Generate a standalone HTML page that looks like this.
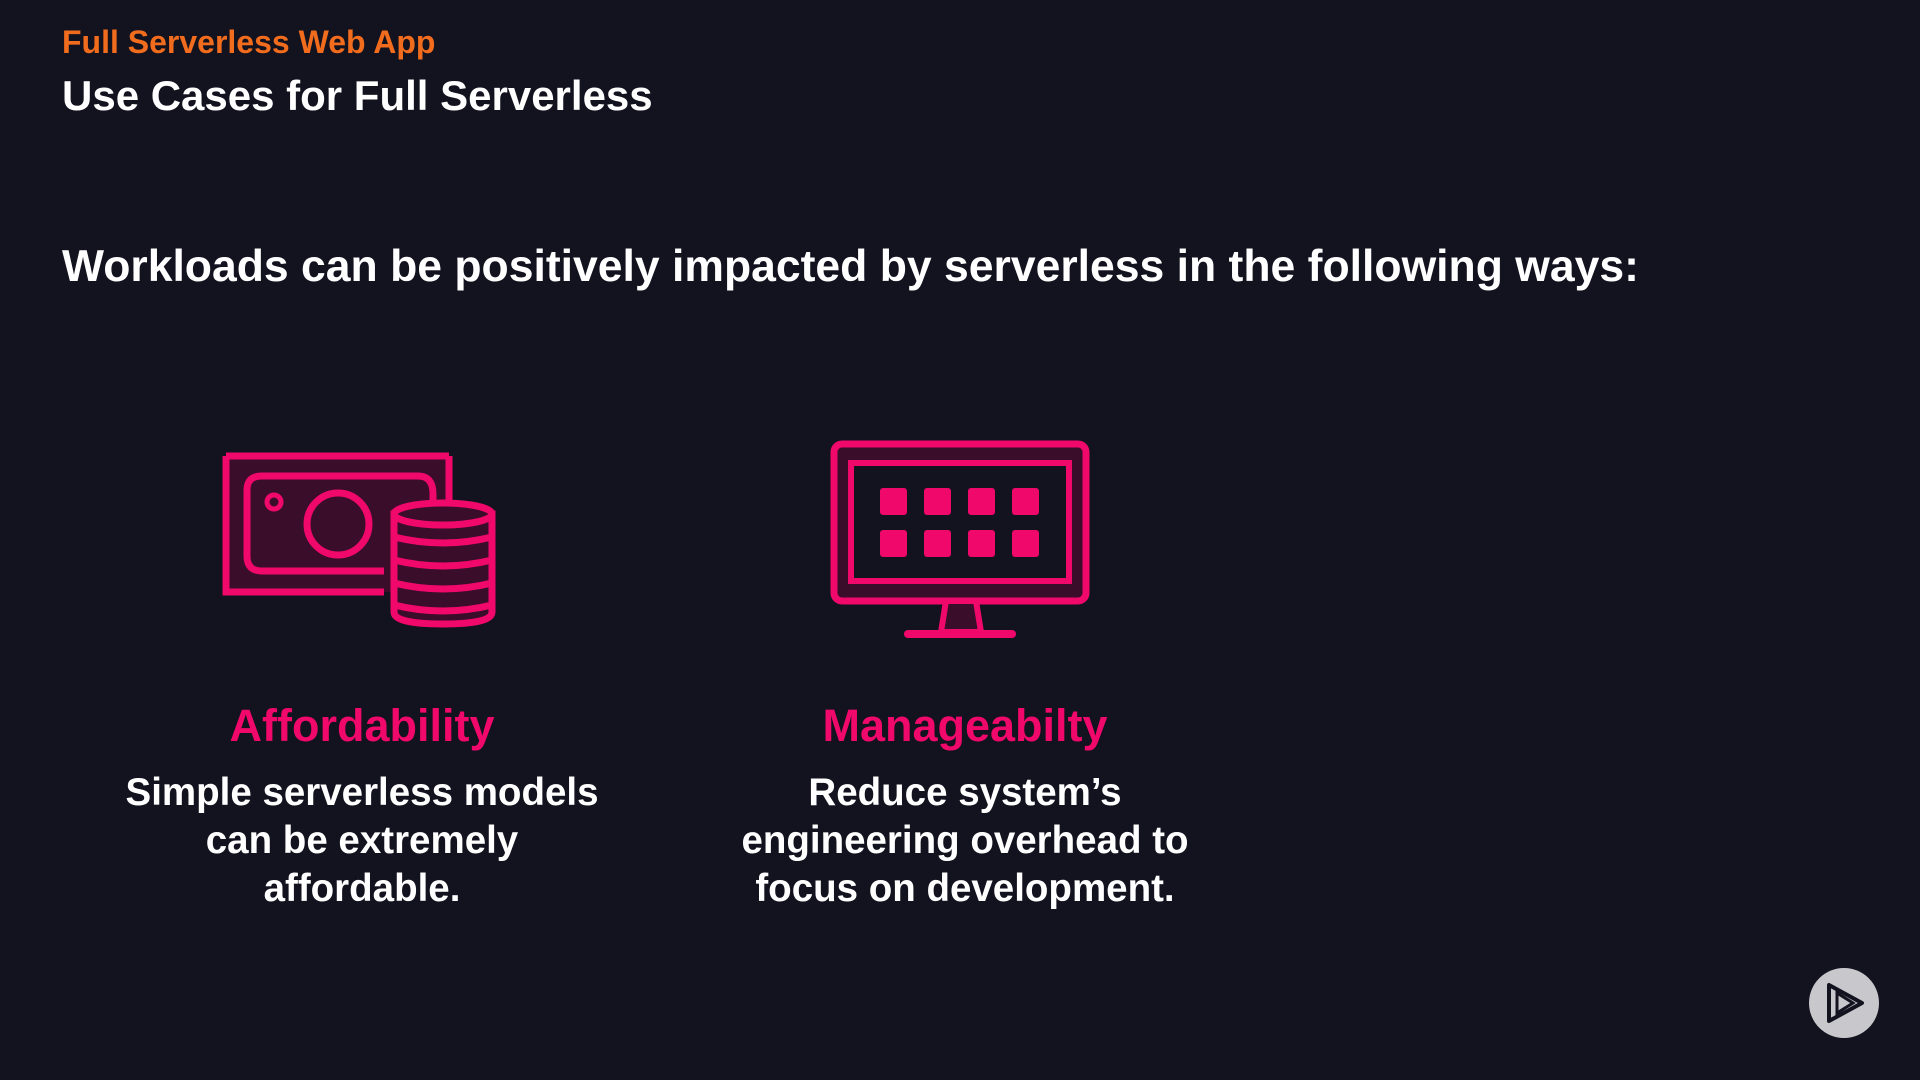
<!DOCTYPE html>
<html><head><meta charset="utf-8"><style>
body{margin:0;width:1920px;height:1080px;background:#13121f;overflow:hidden;position:relative;font-family:"Liberation Sans",sans-serif;font-weight:bold;color:#fff}
.t{position:absolute;white-space:nowrap}
.c{position:absolute;text-align:center;width:600px}
</style></head><body>
<div class="t" style="left:62px;top:24px;font-size:32px;color:#f26c1d">Full Serverless Web App</div>
<div class="t" style="left:62px;top:72px;font-size:42px">Use Cases for Full Serverless</div>
<div class="t" style="left:62px;top:242px;font-size:44.5px">Workloads can be positively impacted by serverless in the following ways:</div>

<svg style="position:absolute;left:0;top:0" width="1920" height="1080">
<g stroke="#f0086a" stroke-width="7" fill="#3a0d2a">
<rect x="226" y="456" width="224" height="136" stroke="none"/>
<path d="M449 456 L449 508 M226 456 L449 456 M226 456 L226 592 L384 592" fill="none"/>
<path d="M384 571 L262 571 Q247 571 247 556 L247 490 Q247 476 262 476 L418 476 Q433 476 433 494 L433 506" fill="#3a0d2a"/>
<circle cx="274" cy="502" r="7" fill="none" stroke-width="5"/>
<circle cx="338" cy="524" r="31"/>
<path d="M394 514 L394 612 Q394 624 443 624 Q492 624 492 612 L492 514 Z"/>
<ellipse cx="443" cy="514" rx="49" ry="11"/>
<path d="M394 537 Q443 549 492 537 M394 560 Q443 572 492 560 M394 583 Q443 595 492 583 M394 605 Q443 617 492 605" fill="none"/>
<rect x="834" y="444" width="252" height="157" rx="8" fill="#3a0d2a"/>
<rect x="851" y="463" width="218" height="118" fill="#13121f" stroke-width="6"/>
<path d="M946 601 L941 632 L981 632 L976 601 Z" stroke-width="6"/>
<path d="M908 634 L1012 634" stroke-width="8" stroke-linecap="round"/>
</g>
<g fill="#f0086a">
<rect x="880" y="488" width="27" height="27" rx="3"/><rect x="924" y="488" width="27" height="27" rx="3"/><rect x="968" y="488" width="27" height="27" rx="3"/><rect x="1012" y="488" width="27" height="27" rx="3"/>
<rect x="880" y="530" width="27" height="27" rx="3"/><rect x="924" y="530" width="27" height="27" rx="3"/><rect x="968" y="530" width="27" height="27" rx="3"/><rect x="1012" y="530" width="27" height="27" rx="3"/>
</g>
<circle cx="1844" cy="1003" r="35" fill="#c8c8cc"/>
<path d="M1829 985 L1829 1021 L1862 1003 Z" fill="none" stroke="#13121f" stroke-width="4" stroke-linejoin="round"/>
<path d="M1837 993 L1837 1013 L1853 1003 Z" fill="none" stroke="#13121f" stroke-width="3"/>
</svg>

<div class="c" style="left:62px;top:700px;font-size:45px;color:#f0086a">Affordability</div>
<div class="c" style="left:62px;top:769px;font-size:38.5px;line-height:48px">Simple serverless models<br>can be extremely<br>affordable.</div>
<div class="c" style="left:665px;top:700px;font-size:45px;color:#f0086a">Manageabilty</div>
<div class="c" style="left:665px;top:769px;font-size:38.5px;line-height:48px">Reduce system’s<br>engineering overhead to<br>focus on development.</div>
</body></html>
